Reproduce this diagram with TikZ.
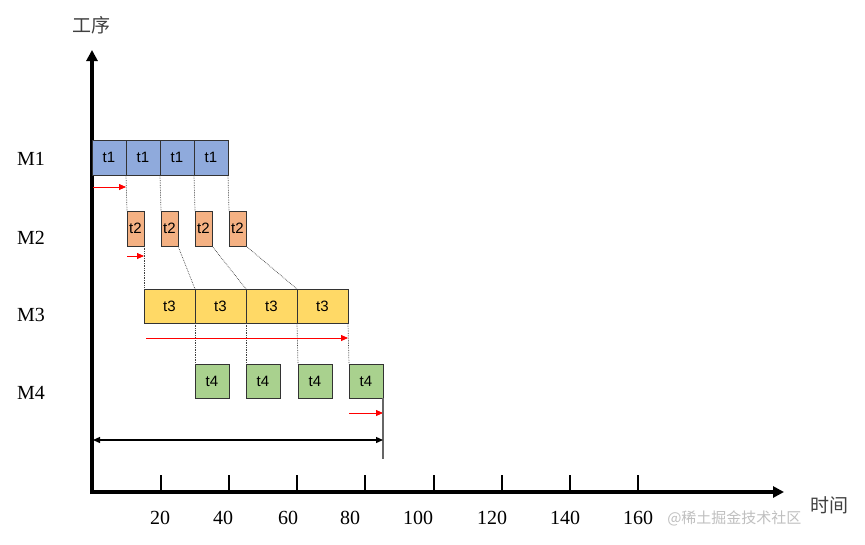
\documentclass[tikz,border=0pt]{standalone}
\usepackage{fontspec}
\setmainfont{Liberation Serif}
\newfontfamily\cjk{Noto Sans CJK SC}
\newfontfamily\boxfont{Liberation Sans}
\usetikzlibrary{arrows.meta}
\definecolor{cA}{HTML}{8FAADC}
\definecolor{cB}{HTML}{F4B183}
\definecolor{cC}{HTML}{FFD966}
\definecolor{cD}{HTML}{A9D18E}
\tikzset{
  box/.style={draw=black!80, line width=0.9pt, inner sep=0pt, outer sep=0pt, anchor=north west, font=\boxfont\fontsize{15}{17}\selectfont},
  tone/.style={box, fill=cA, minimum width=34pt, minimum height=35pt},
  ttwo/.style={box, fill=cB, minimum width=17pt, minimum height=35pt},
  tthree/.style={box, fill=cC, minimum width=51pt, minimum height=34pt},
  tfour/.style={box, fill=cD, minimum width=34pt, minimum height=34pt},
  link/.style={densely dotted, black!75, line width=0.7pt},
  redarr/.style={red, line width=0.8pt, -{Triangle[length=7pt,width=6pt]}},
  axis/.style={line width=3.5pt, -{Triangle[length=11pt,width=11pt]}},
  tick/.style={line width=1.6pt},
  lab/.style={font=\fontsize{20}{24}\selectfont},
  cjklab/.style={font=\cjk\fontsize{19}{22}\selectfont, text=black!75},
}
\begin{document}
\begin{tikzpicture}[x=1pt,y=-1pt]
\useasboundingbox (0,0) rectangle (865,544);
% axes
\coordinate (O) at (92,492);
\coordinate (Ytop) at (92,50);
\coordinate (Xend) at (784,492);
\draw[axis] (92,494) -- (Ytop);
\draw[axis] (O) -- (Xend);
\node[cjklab] (ylab) at (91,25) {工序};
\node[cjklab] (xlab) at (829,505) {时间};
\node[font=\cjk\fontsize{15}{18}\selectfont, text=black!25, anchor=east] (wm) at (805,518) {@稀土掘金技术社区};
% ticks
\foreach \x/\l/\lx [count=\i] in {161/20/160,229/40/223,297/60/288,365/80/350,434/100/418,502/120/492,570/140/565,638/160/638}{
  \coordinate (tk\i) at (\x,492);
  \draw[tick] (tk\i) -- ++(0,-17);
  \node[lab] (tl\i) at (\lx,518) {\l};
}
% machine labels
\node[lab] (m1) at (31,159) {M1};
\node[lab] (m2) at (31,238) {M2};
\node[lab] (m3) at (31,315) {M3};
\node[lab] (m4) at (31,393) {M4};
% t1
\node[tone] (a1) at (92,140) {t1};
\node[tone] (a2) at (126,140) {t1};
\node[tone] (a3) at (160,140) {t1};
\node[tone] (a4) at (194,140) {t1};
% t2
\node[ttwo] (b1) at (127,211) {t2};
\node[ttwo] (b2) at (161,211) {t2};
\node[ttwo] (b3) at (195,211) {t2};
\node[ttwo] (b4) at (229,211) {t2};
% t3
\node[tthree] (c1) at (144,289) {t3};
\node[tthree] (c2) at (195,289) {t3};
\node[tthree] (c3) at (246,289) {t3};
\node[tthree] (c4) at (297,289) {t3};
% t4
\node[tfour] (d1) at (195,364) {t4};
\node[tfour] (d2) at (246,364) {t4};
\node[tfour] (d3) at (298,364) {t4};
\node[tfour] (d4) at (349,364) {t4};
% dotted links
\draw[link] (a1.south east) -- (b1.north west);
\draw[link] (a2.south east) -- (b2.north west);
\draw[link] (a3.south east) -- (b3.north west);
\draw[link] (a4.south east) -- (b4.north west);
\draw[link] (b1.south east) -- (c1.north west);
\draw[link] (b2.south east) -- (c2.north west);
\draw[link] (b3.south east) -- (c3.north west);
\draw[link] (b4.south east) -- (c4.north west);
\draw[link] (c1.south east) -- (d1.north west);
\draw[link] (c2.south east) -- (d2.north west);
\draw[link] (c3.south east) -- (d3.north west);
\draw[link] (c4.south east) -- (d4.north west);
% red arrows
\coordinate (r1s) at (93,187); \coordinate (r1e) at (126,187);
\coordinate (r2s) at (127,256); \coordinate (r2e) at (144,256);
\coordinate (r3s) at (146,338); \coordinate (r3e) at (348,338);
\coordinate (r4s) at (349,413); \coordinate (r4e) at (383,413);
\draw[redarr] (r1s) -- (r1e);
\draw[redarr] (r2s) -- (r2e);
\draw[redarr] (r3s) -- (r3e);
\draw[redarr] (r4s) -- (r4e);
% total span
\coordinate (vend) at (383,459);
\draw[black!60, line width=1.4pt] (d4.south east) -- (vend);
\coordinate (sp1) at (93,440);
\coordinate (sp2) at (383,440);
\draw[line width=1.3pt, {Triangle[length=7pt,width=6pt]}-{Triangle[length=7pt,width=6pt]}] (sp1) -- (sp2);
\end{tikzpicture}
\end{document}
